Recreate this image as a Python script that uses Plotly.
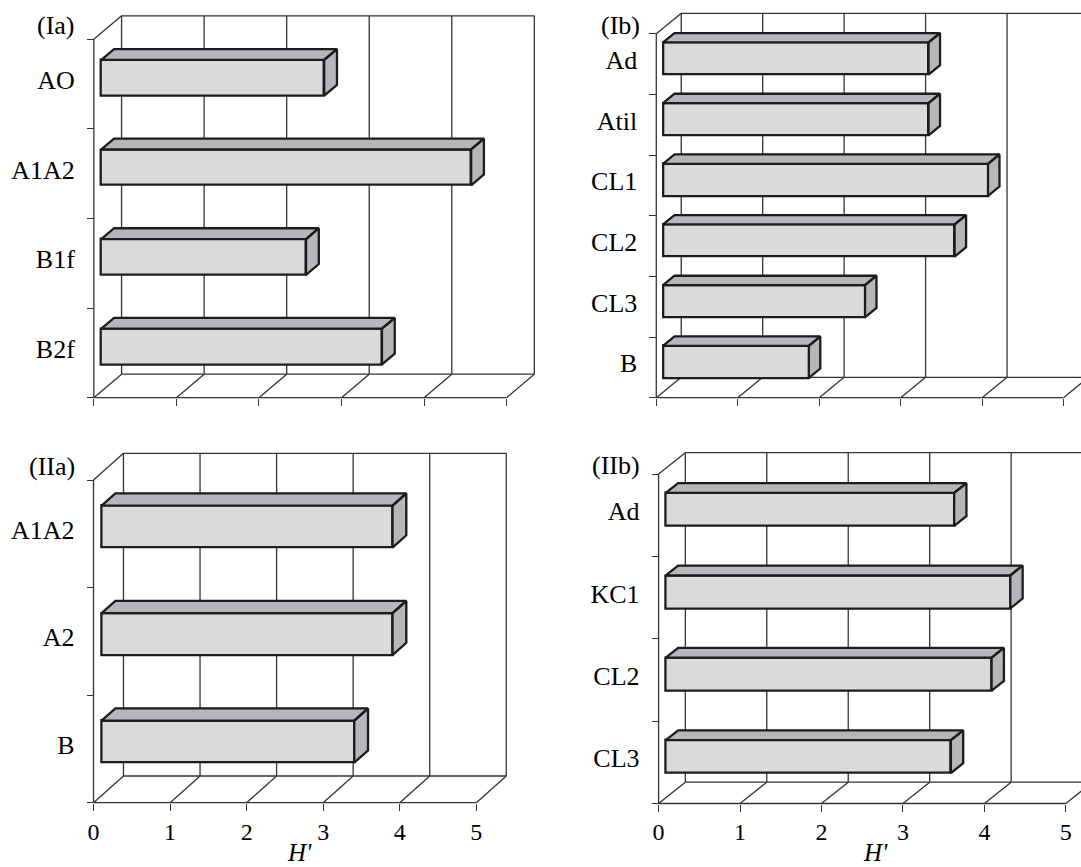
import plotly.graph_objects as go

W, H = 1081, 867

# ---------------- data ----------------
cats_Ia = ["AO", "A1A2", "B1f", "B2f"]
vals_Ia = [2.70, 4.48, 2.48, 3.40]

cats_Ib = ["Ad", "Atil", "CL1", "CL2", "CL3", "B"]
vals_Ib = [3.26, 3.26, 3.99, 3.58, 2.48, 1.79]

cats_IIa = ["A1A2", "A2", "B"]
vals_IIa = [3.80, 3.80, 3.30]

cats_IIb = ["Ad", "KC1", "CL2", "CL3"]
vals_IIb = [3.54, 4.23, 4.00, 3.50]

x_ticks = [0, 1, 2, 3, 4, 5]
panel_names = ["(Ia)", "(Ib)", "(IIa)", "(IIb)"]
x_title = "<i>H'</i>"

# ---------------- layout geometry (pixels) ----------------
panels = [
    dict(cats=cats_Ia, vals=vals_Ia, X0=92.0, SX=82.7, Y0=397.7, Ytop=39.3,
         DX=27.8, DY=23.5, h=0.40, xlabels=False, lab=(75, 26)),
    dict(cats=cats_Ib, vals=vals_Ib, X0=655.5, SX=81.6, Y0=397.7, Ytop=33.7,
         DX=25.0, DY=20.4, h=0.53, xlabels=False, lab=(641, 26)),
    dict(cats=cats_IIa, vals=vals_IIa, X0=91.7, SX=76.7, Y0=802.7, Ytop=480.0,
         DX=30.0, DY=26.7, h=0.39, xlabels=True, lab=(75, 466.5)),
    dict(cats=cats_IIb, vals=vals_IIb, X0=657.8, SX=81.6, Y0=803.5, Ytop=474.0,
         DX=26.8, DY=21.3, h=0.40, xlabels=True, lab=(641, 465)),
]
F0, FW = 0.27, 0.46          # bar depth start / depth width (fraction of full depth)
FRONT = "#d9dadc"
DARK = "#b6b7ba"
EDGE = "#1c1c1c"
GRID = "#333333"
SERIF = "Liberation Serif"

fig = go.Figure()
shapes = []
annotations = []
layout_axes = {}

for k, p in enumerate(panels, start=1):
    sfx = "" if k == 1 else str(k)
    xr, yr = "x" + sfx, "y" + sfx
    cats, vals = p["cats"], p["vals"]
    n = len(cats)
    SX = p["SX"]
    SY = (p["Y0"] - p["Ytop"]) / n
    ddx = p["DX"] / SX
    ddy = p["DY"] / SY
    xmax = max(x_ticks)

    px_left = p["X0"] - 4
    px_right = min(W, p["X0"] + xmax * SX + p["DX"] + 4)
    py_top = p["Ytop"] - p["DY"] - 4
    py_bot = p["Y0"] + 4

    layout_axes["xaxis" + sfx] = dict(
        domain=[px_left / W, px_right / W],
        range=[(px_left - p["X0"]) / SX, (px_right - p["X0"]) / SX],
        anchor="free", position=1 - p["Y0"] / H,
        tickmode="array", tickvals=x_ticks, ticktext=[str(t) for t in x_ticks],
        ticks="outside", ticklen=7, tickwidth=1.3, tickcolor=GRID,
        showticklabels=p["xlabels"], ticklabelstandoff=0,
        tickfont=dict(family=SERIF, size=24, color="black"),
        showgrid=False, zeroline=False, showline=False, fixedrange=True,
    )
    layout_axes["yaxis" + sfx] = dict(
        domain=[1 - py_bot / H, 1 - py_top / H],
        range=[(p["Y0"] - py_bot) / SY, (p["Y0"] - py_top) / SY],
        anchor="free", position=p["X0"] / W,
        tickmode="array",
        tickvals=[n - 1 - i + 0.5 + 4.0 / SY for i in range(n)], ticktext=cats,
        ticks="", ticklabelstandoff=19,
        tickfont=dict(family=SERIF, size=26, color="black"),
        minor=dict(tickmode="array", tickvals=list(range(n + 1)), ticks="outside",
                   ticklen=7, tickwidth=1.3, tickcolor=GRID, showgrid=False),
        showgrid=False, zeroline=False, showline=False, fixedrange=True,
    )

    # frame lines (walls and floor)
    def seg(x0, y0, x1, y1):
        shapes.append(dict(type="line", xref=xr, yref=yr, x0=x0, y0=y0, x1=x1, y1=y1,
                           layer="below", line=dict(color=GRID, width=1.3)))

    for t in x_ticks:
        seg(t + ddx, ddy, t + ddx, n + ddy)          # back wall gridlines
        seg(t, 0, t + ddx, ddy)                      # floor diagonals
    seg(ddx, n + ddy, xmax + ddx, n + ddy)           # back wall top
    seg(ddx, ddy, xmax + ddx, ddy)                   # back floor line
    seg(0, 0, xmax, 0)                               # front floor line
    seg(0, 0, 0, n)                                  # front vertical axis
    seg(0, n, ddx, n + ddy)                          # left wall top diagonal

    # bars: front faces
    base = F0 * ddx
    yc = [n - 1 - i + 0.5 + F0 * ddy for i in range(n)]
    h = p["h"]
    fig.add_trace(go.Bar(
        x=vals, y=yc, base=base, width=h, orientation="h",
        marker=dict(color=FRONT, line=dict(color=EDGE, width=2.3)),
        xaxis=xr, yaxis=yr, showlegend=False, hoverinfo="skip",
    ))

    # bars: top and side faces
    px, py = [], []
    ox, oy = FW * ddx, FW * ddy
    for v, c in zip(vals, yc):
        x0, x1 = base, base + v
        yt, yb = c + h / 2, c - h / 2
        px += [x0, x1, x1 + ox, x0 + ox, x0, None]
        py += [yt, yt, yt + oy, yt + oy, yt, None]
        px += [x1, x1 + ox, x1 + ox, x1, x1, None]
        py += [yt, yt + oy, yb + oy, yb, yt, None]
    fig.add_trace(go.Scatter(
        x=px, y=py, mode="lines", fill="toself", fillcolor=DARK,
        line=dict(color=EDGE, width=2.3), xaxis=xr, yaxis=yr,
        showlegend=False, hoverinfo="skip",
    ))

    annotations.append(dict(
        text=panel_names[k - 1], xref="paper", yref="paper",
        x=p["lab"][0] / W, y=1 - p["lab"][1] / H, xanchor="right", yanchor="middle",
        showarrow=False, font=dict(family=SERIF, size=26, color="black"),
    ))
    if p["xlabels"]:
        mid = p["X0"] + (xmax / 2) * SX + 0.5 * p["DX"]
        annotations.append(dict(
            text=x_title, xref="paper", yref="paper",
            x=mid / W, y=0, xanchor="center", yanchor="bottom", borderpad=0,
            showarrow=False, font=dict(family=SERIF, size=25, color="black"),
        ))

fig.update_layout(
    width=W, height=H, margin=dict(l=0, r=0, t=0, b=0),
    paper_bgcolor="white", plot_bgcolor="rgba(0,0,0,0)",
    shapes=shapes, annotations=annotations, bargap=0, barmode="overlay",
    **layout_axes,
)
fig.write_html(
    "out.html",
    config={"displayModeBar": False},
    post_script="document.body.style.margin='0';document.body.style.padding='0';"
                "document.documentElement.style.overflow='hidden';",
)
